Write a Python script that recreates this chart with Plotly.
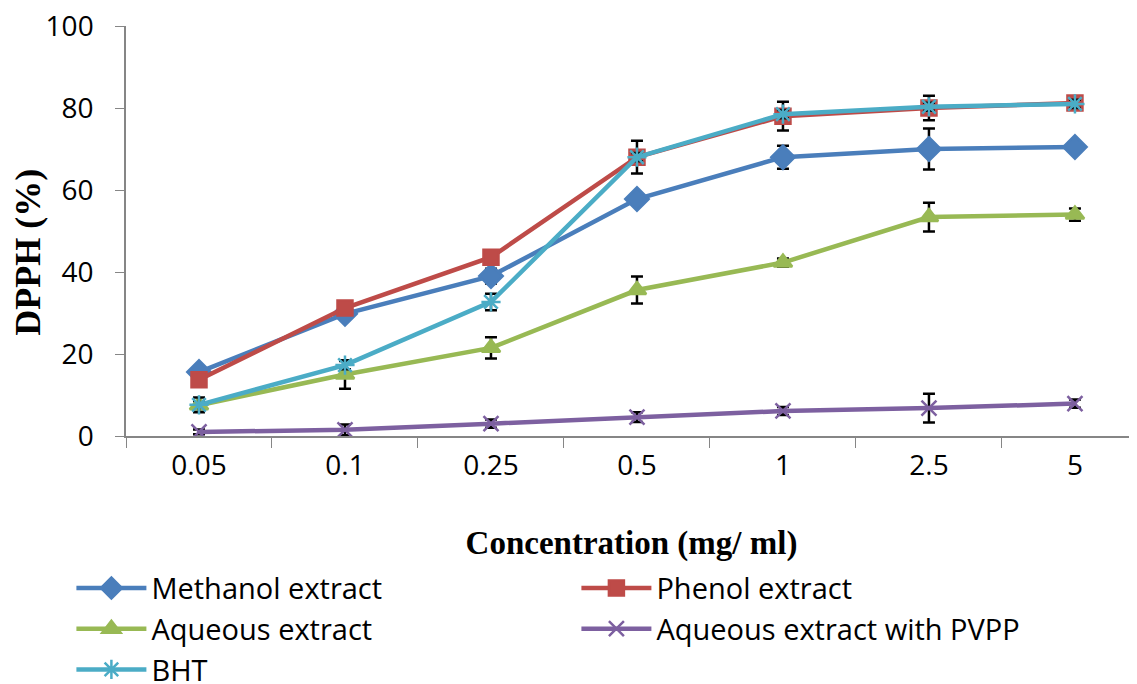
import plotly.graph_objects as go

concentrations = ["0.05", "0.1", "0.25", "0.5", "1", "2.5", "5"]

methanol = [15.6, 29.8, 39.0, 57.8, 68.0, 70.0, 70.5]
methanol_err = [0.8, 0.8, 1.8, 1.0, 2.8, 5.0, 1.0]

phenol = [13.7, 31.2, 43.6, 68.0, 78.0, 80.0, 81.2]
phenol_err = [1.0, 1.0, 1.0, 4.0, 3.5, 3.0, 1.0]

aqueous = [7.5, 15.0, 21.5, 35.6, 42.3, 53.4, 54.0]
aqueous_err = [1.0, 3.5, 2.6, 3.3, 1.0, 3.5, 1.5]

pvpp = [1.0, 1.5, 3.0, 4.6, 6.1, 6.8, 7.9]
pvpp_err = [0.6, 1.3, 1.0, 1.2, 1.0, 3.5, 1.0]

bht = [7.6, 17.3, 32.7, 68.0, 78.5, 80.3, 81.0]
bht_err = [1.8, 1.0, 2.0, 1.0, 1.0, 1.0, 1.0]

series = [
    ("Methanol extract", methanol, methanol_err, "#4A7EBB", "diamond", 18),
    ("Phenol extract", phenol, phenol_err, "#BE4B48", "square", 15),
    ("Aqueous extract", aqueous, aqueous_err, "#98B954", "triangle-up", 16),
    ("Aqueous extract with PVPP", pvpp, pvpp_err, "#7D60A0", "x-thin", 15),
    ("BHT", bht, bht_err, "#4BACC6", "asterisk", 16),
]

fig = go.Figure()
for name, vals, errs, color, symbol, size in series:
    fig.add_trace(go.Scatter(
        x=concentrations, y=vals, name=name, mode="lines+markers",
        line=dict(color=color, width=4.5),
        marker=dict(symbol=symbol, size=size, color=color,
                    line=dict(color=color, width=2.5)),
        error_y=dict(type="data", array=errs, visible=True,
                     color="black", thickness=2.5, width=6),
    ))

fig.add_annotation(
    text="<b>DPPH (%)</b>", xref="paper", yref="paper",
    x=-0.097, y=0.449, textangle=-90, showarrow=False,
    xanchor="center", yanchor="middle",
    font=dict(family="Liberation Serif", size=36, color="black"),
)

fig.update_layout(
    width=1129, height=676,
    margin=dict(l=118, r=0, t=18, b=248, autoexpand=False),
    paper_bgcolor="white", plot_bgcolor="white",
    font=dict(family="Open Sans", color="black"),
    showlegend=True,
    legend=dict(
        orientation="h", x=-0.054, y=-0.309, xanchor="left", yanchor="top",
        entrywidth=420, entrywidthmode="pixels", itemwidth=70,
        font=dict(family="Open Sans", size=29, color="black"),
        itemsizing="trace",
    ),
    xaxis=dict(
        type="category", range=[-0.5, 6.425],
        showline=True, linecolor="#868686", linewidth=1.5,
        ticks="outside", tickson="boundaries", ticklen=10, tickcolor="#868686",
        tickfont=dict(family="Open Sans", size=28, color="black"),
        ticklabelstandoff=4, ticklabeloverflow="allow",
        showgrid=False, zeroline=False,
        title=dict(text="<b>Concentration (mg/ ml)</b>", standoff=49,
                   font=dict(family="Liberation Serif", size=33, color="black")),
    ),
    yaxis=dict(
        range=[0, 100], dtick=20,
        showline=True, linecolor="#868686", linewidth=1.5,
        ticks="outside", ticklen=9, tickcolor="#868686",
        tickfont=dict(family="Open Sans", size=28, color="black"),
        ticklabelstandoff=16, ticklabeloverflow="allow",
        showgrid=False, zeroline=False,
    ),
)

fig.write_html("out.html")
